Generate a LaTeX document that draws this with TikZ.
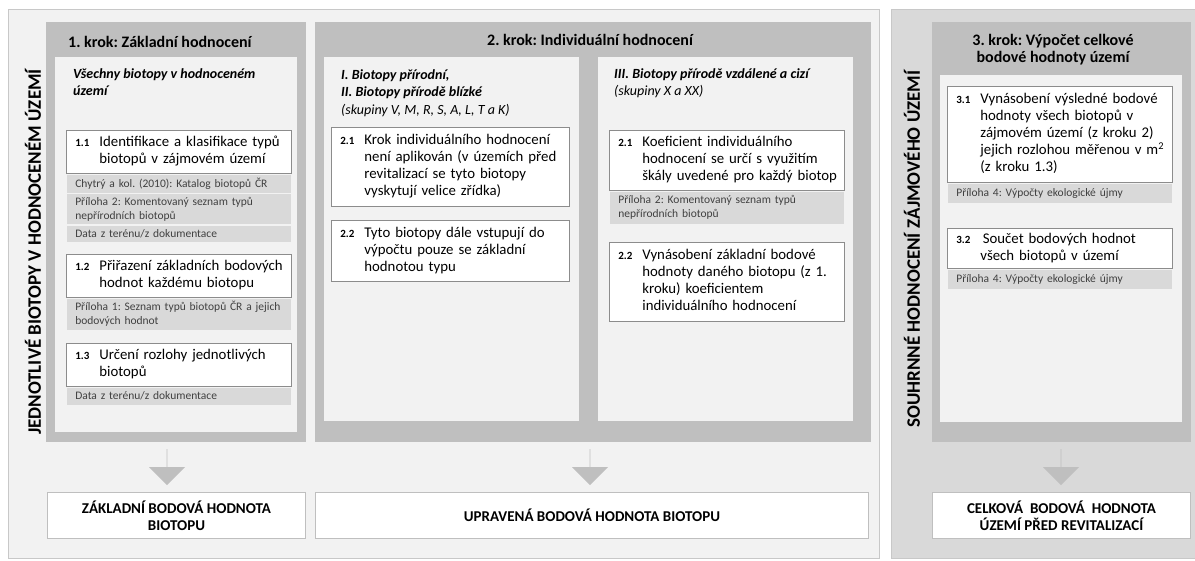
\documentclass[tikz,border=0pt]{standalone}
\usepackage{fontspec}
\setmainfont{Carlito}
\usetikzlibrary{positioning,shapes.arrows}
\definecolor{svetla}{HTML}{F2F2F2}
\definecolor{bocni}{HTML}{D9D9D9}
\definecolor{tmava}{HTML}{BFBFBF}
\definecolor{radek}{HTML}{D9D9D9}
\definecolor{ramecek}{HTML}{8C8C8C}
\definecolor{okraj}{HTML}{C8C8C8}
\newcommand{\polozka}[2]{\begin{tabular}[t]{@{}p{24pt}@{}l@{}}{\fontsize{11}{13}\selectfont\bfseries #1}&\begin{tabular}[t]{@{}l@{}}#2\end{tabular}\end{tabular}}
\tikzset{
  plocha/.style={anchor=north west, inner sep=0pt, outer sep=0pt},
  krok/.style={plocha, fill=tmava},
  vnitrek/.style={plocha, fill=svetla},
  titulek/.style={inner sep=0pt, align=center, font=\bfseries\fontsize{16}{17}\selectfont},
  nadpis/.style={anchor=north west, inner sep=0pt, align=left, font=\fontsize{14}{17.5}\selectfont},
  bod/.style={anchor=north west, draw=ramecek, fill=white, line width=0.8pt, inner xsep=9pt, inner ysep=2pt, align=left, font=\fontsize{14.8}{17}\selectfont},
  zdroj/.style={anchor=north west, draw=svetla, fill=radek, line width=0.6pt, inner xsep=9pt, inner ysep=1pt, align=left, text=black!75, font=\fontsize{11.5}{14}\selectfont},
  vysledek/.style={anchor=north west, draw=tmava, fill=white, line width=1pt, inner sep=0pt, align=center, font=\bfseries\fontsize{15}{17}\selectfont},
  svisly/.style={rotate=90, inner sep=0pt, font=\bfseries\fontsize{19}{21}\selectfont},
  sipka/.style={single arrow, fill=tmava, rotate=-90, minimum height=36pt, minimum width=36pt, single arrow head extend=8pt, single arrow head indent=0pt, inner sep=0pt}
}
\begin{document}
\frenchspacing
\begin{tikzpicture}[x=1pt,y=-1pt]
\useasboundingbox[fill=white] (0,0) rectangle (1195,560);
% podklad
\node[plocha, fill=svetla, draw=okraj, minimum width=871pt, minimum height=549pt] (levy) at (8,9) {};
\node[plocha, fill=bocni, draw=okraj, minimum width=304pt, minimum height=549pt] (pravy) at (891,9) {};
\node[svisly] (svis1) at (33,252) {JEDNOTLIVÉ BIOTOPY V HODNOCENÉM ÚZEMÍ};
\node[svisly] (svis2) at (912,249) {SOUHRNNÉ HODNOCENÍ ZÁJMOVÉHO ÚZEMÍ};

% 1. krok
\node[krok, minimum width=260pt, minimum height=420pt] (krok1) at (46,22) {};
\node[vnitrek, minimum width=242pt, minimum height=375pt] (vnitr1) at (55,57) {};
\node[titulek, anchor=west] (tit1) at (68,42) {1. krok: Základní hodnocení};
\node[nadpis] (nad1) at (73,68) {\bfseries\itshape Všechny biotopy v hodnoceném\\\bfseries\itshape území};
\node[bod, text width=207pt, minimum height=43pt] (b11) at (66,130) {\polozka{1.1}{Identifikace a klasifikace typů\\biotopů v zájmovém území}};
\node[zdroj, text width=207pt, minimum height=19pt] (z11a) at (b11.south west) {Chytrý a kol. (2010): Katalog biotopů ČR};
\node[zdroj, text width=207pt, minimum height=31pt] (z11b) at (z11a.south west) {Příloha 2: Komentovaný seznam typů\\nepřírodních biotopů};
\node[zdroj, text width=207pt, minimum height=17pt] (z11c) at (z11b.south west) {Data z terénu/z dokumentace};
\node[bod, text width=207pt, minimum height=43pt] (b12) at (66,254) {\polozka{1.2}{Přiřazení základních bodových\\hodnot každému biotopu}};
\node[zdroj, text width=207pt, minimum height=32pt] (z12) at (b12.south west) {Příloha 1: Seznam typů biotopů ČR a jejich\\bodových hodnot};
\node[bod, text width=207pt, minimum height=43pt] (b13) at (66,343) {\polozka{1.3}{Určení rozlohy jednotlivých\\biotopů}};
\node[zdroj, text width=207pt, minimum height=18pt] (z13) at (b13.south west) {Data z terénu/z dokumentace};

% 2. krok
\node[krok, minimum width=556pt, minimum height=420pt] (krok2) at (315,22) {};
\node[vnitrek, minimum width=255pt, minimum height=364pt] (vnitr2a) at (324,57) {};
\node[vnitrek, minimum width=255pt, minimum height=364pt] (vnitr2b) at (598,57) {};
\node[titulek] (tit2) at (590,40) {2. krok: Individuální hodnocení};
\node[nadpis] (nad2a) at (341,69) {\bfseries\itshape I. Biotopy přírodní,\\\bfseries\itshape II. Biotopy přírodě blízké\\\itshape (skupiny V, M, R, S, A, L, T a K)};
\node[bod, text width=220pt, minimum height=79pt] (b21a) at (331,127) {\polozka{2.1}{Krok individuálního hodnocení\\není aplikován (v územích před\\revitalizací se tyto biotopy\\vyskytují velice zřídka)}};
\node[bod, text width=220pt, minimum height=61pt] (b22a) at (331,220) {\polozka{2.2}{Tyto biotopy dále vstupují do\\výpočtu pouze se základní\\hodnotou typu}};
\node[nadpis] (nad2b) at (614,68) {\bfseries\itshape III. Biotopy přírodě vzdálené a cizí\\\itshape (skupiny X a XX)};
\node[bod, text width=217pt, minimum height=60pt] (b21b) at (609,130) {\polozka{2.1}{Koeficient individuálního\\hodnocení se určí s využitím\\škály uvedené pro každý biotop}};
\node[zdroj, text width=217pt, minimum height=33pt] (z21b) at (b21b.south west) {Příloha 2: Komentovaný seznam typů\\nepřírodních biotopů};
\node[bod, text width=217pt, minimum height=79pt] (b22b) at (609,242) {\polozka{2.2}{Vynásobení základní bodové\\hodnoty daného biotopu (z 1.\\kroku) koeficientem\\individuálního hodnocení}};

% 3. krok
\node[krok, minimum width=259pt, minimum height=420pt] (krok3) at (932,22) {};
\node[vnitrek, minimum width=242pt, minimum height=347pt] (vnitr3) at (940,75) {};
\node[titulek] (tit3) at (1053,50) {3. krok: Výpočet celkové\\bodové hodnoty území};
\node[bod, text width=207pt, minimum height=96pt] (b31) at (947,86) {\polozka{3.1}{Vynásobení výsledné bodové\\hodnoty všech biotopů v\\zájmovém území (z kroku 2)\\jejich rozlohou měřenou v m\textsuperscript{2}\\(z kroku 1.3)}};
\node[zdroj, text width=207pt, minimum height=20pt] (z31) at (b31.south west) {Příloha 4: Výpočty ekologické újmy};
\node[bod, text width=207pt, minimum height=40pt] (b32) at (947,228) {\polozka{3.2}{\,Součet bodových hodnot\\všech biotopů v území}};
\node[zdroj, text width=207pt, minimum height=20pt] (z32) at (b32.south west) {Příloha 4: Výpočty ekologické újmy};

% vysledky
\node[sipka] (s1) at (167,467) {};
\node[sipka] (s2) at (590,467) {};
\node[sipka] (s3) at (1061,467) {};
\node[vysledek, minimum width=258pt, minimum height=46pt] (v1) at (47,492) {ZÁKLADNÍ BODOVÁ HODNOTA\\BIOTOPU};
\node[vysledek, minimum width=553pt, minimum height=46pt] (v2) at (315,492) {UPRAVENÁ BODOVÁ HODNOTA BIOTOPU};
\node[vysledek, minimum width=258pt, minimum height=46pt] (v3) at (932,492) {CELKOVÁ\ \ BODOVÁ\ \ HODNOTA\\ÚZEMÍ PŘED REVITALIZACÍ};
\end{tikzpicture}
\end{document}
